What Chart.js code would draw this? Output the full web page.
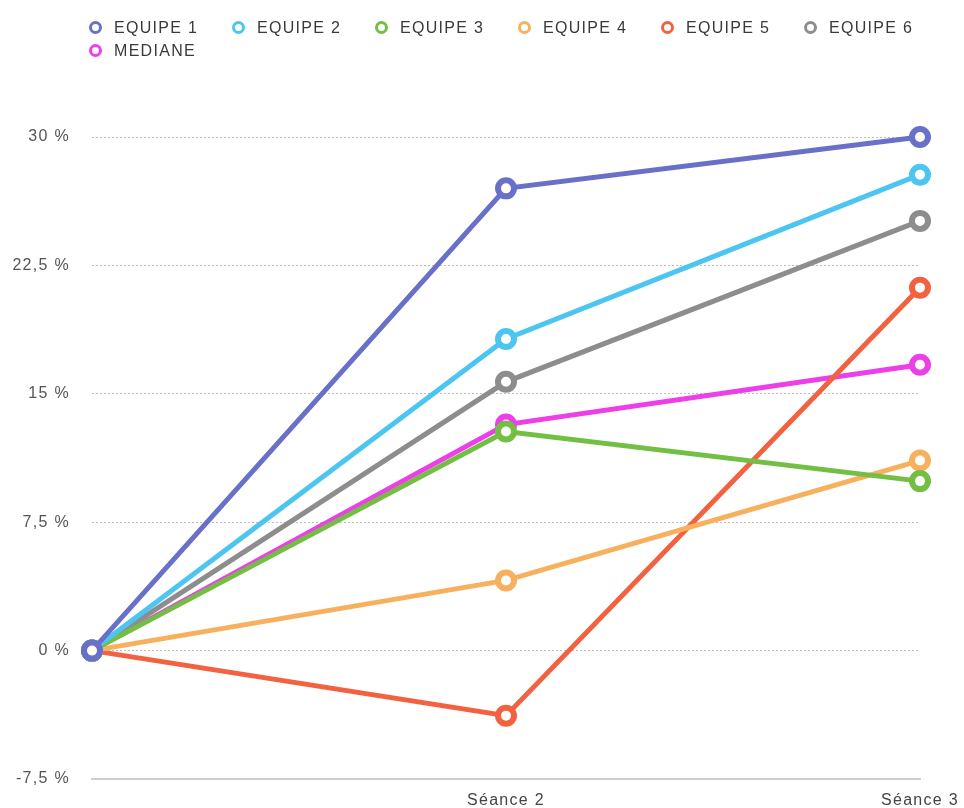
<!DOCTYPE html>
<html>
<head>
<meta charset="utf-8">
<script src="https://cdn.jsdelivr.net/npm/chart.js@4.4.1/dist/chart.umd.min.js"></script>
<style>
  html, body { margin: 0; padding: 0; background: #fff; }
  #wrap { position: relative; width: 964px; height: 808px; }
  #chart { display: block; }
  #legend { position: absolute; left: 89px; top: 16px; width: 870px; font-family: "Liberation Sans", Arial, sans-serif; font-size: 16px; letter-spacing: 1.3px; color: #3a3a3a; }
  .item { display: inline-flex; align-items: center; width: 143px; height: 23px; white-space: nowrap; }
  .dot { width: 7px; height: 7px; border-radius: 50%; border: 3px solid; margin-right: 12px; box-sizing: content-box; }
</style>
</head>
<body>
<div id="wrap">
  <canvas id="chart" width="964" height="808"></canvas>
  <div id="legend"></div>
</div>
<script>
// categories and series
const seances = ['', 'Séance 2', 'Séance 3'];
const equipe1 = [0, 27.0, 30.0];
const equipe2 = [0, 18.2, 27.8];
const equipe3 = [0, 12.8, 9.9];
const equipe4 = [0, 4.1, 11.1];
const equipe5 = [0, -3.8, 21.2];
const equipe6 = [0, 15.7, 25.1];
const mediane = [0, 13.2, 16.7];
const yTicks = [-7.5, 0, 7.5, 15, 22.5, 30];

const series = [
    { label: 'EQUIPE 1', data: equipe1, color: '#6870c8' },
    { label: 'EQUIPE 2', data: equipe2, color: '#4cc5f0' },
    { label: 'EQUIPE 3', data: equipe3, color: '#72bf44' },
    { label: 'EQUIPE 4', data: equipe4, color: '#f7b15e' },
    { label: 'EQUIPE 5', data: equipe5, color: '#f26240' },
    { label: 'EQUIPE 6', data: equipe6, color: '#8d8d8d' },
    { label: 'MEDIANE', data: mediane, color: '#ec3fe8' }
];

const fontFamily = '"Liberation Sans", Arial, sans-serif';

// wider letter spacing for the axis labels, like the original
const spacing = {
    id: 'spacing',
    beforeDraw: chart => { chart.ctx.letterSpacing = '1.3px'; }
};

const ctx = document.getElementById('chart').getContext('2d');
const chart = new Chart(ctx, {
    type: 'line',
    data: {
        labels: seances,
        datasets: series.map(s => ({
            label: s.label,
            data: s.data,
            borderColor: s.color,
            backgroundColor: '#fff',
            pointBorderColor: s.color,
            pointBackgroundColor: '#fff',
            borderWidth: 5,
            pointRadius: 8,
            pointBorderWidth: 6,
            tension: 0,
            fill: false,
            clip: false
        }))
    },
    plugins: [spacing],
    options: {
        responsive: false,
        animation: false,
        layout: { autoPadding: false, padding: { top: 137, right: 44, left: 0, bottom: 0 } },
        plugins: {
            legend: { display: false },
            tooltip: { enabled: false }
        },
        scales: {
            x: {
                offset: false,
                afterFit: axis => { axis.height = 29; axis.paddingRight = 0; },
                grid: { display: false, drawTicks: false },
                border: { display: true, color: '#cfcfcf', width: 2 },
                ticks: { color: '#444', padding: 12, maxRotation: 0, autoSkip: false, font: { family: fontFamily, size: 16 } }
            },
            y: {
                min: -7.5,
                max: 30,
                afterBuildTicks: axis => { axis.ticks = yTicks.map(v => ({ value: v })); },
                afterFit: axis => { axis.width = 92; axis.paddingBottom = 0; },
                grid: { color: '#bdbdbd', lineWidth: 1, drawTicks: false },
                border: { display: false, dash: [2, 2] },
                ticks: {
                    color: '#555',
                    padding: 22,
                    font: { family: fontFamily, size: 16 },
                    callback: v => String(v).replace('.', ',') + ' %'
                }
            }
        }
    }
});

// HTML legend built from the datasets
const legendEl = document.getElementById('legend');
series.forEach(s => {
    const item = document.createElement('span');
    item.className = 'item';
    item.innerHTML = `<span class="dot" style="border-color:${s.color}"></span>${s.label}`;
    legendEl.appendChild(item);
});
</script>
</body>
</html>
